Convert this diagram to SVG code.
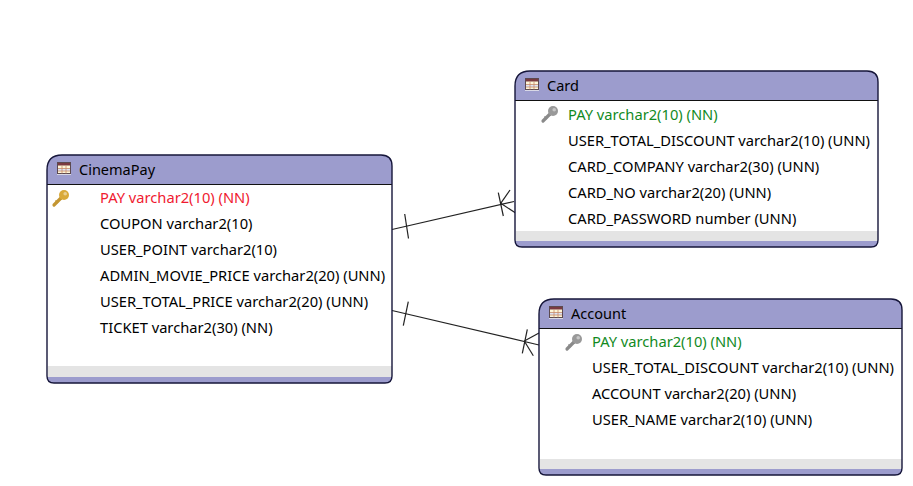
<svg xmlns="http://www.w3.org/2000/svg" width="913" height="486" viewBox="0 0 913 486">
<style>
text{font-family:"Noto Sans","Open Sans","Liberation Sans",sans-serif;font-size:14.7px;fill:#000}
.t{font-size:14.5px}
.box{fill:#fff;stroke:none}
.hd{fill:#9c9ccd}
.band{fill:#e4e4e4}
.out{fill:none;stroke:#16163a;stroke-width:1.4}
.sep{stroke:#111;stroke-width:1}
.pk{fill:#f01a30}
.fk{fill:#128a1e}
.c line{stroke:#222;stroke-width:1.2}
</style>
<defs>
<g id="tbl">
<rect x="0" y="11" width="14" height="2" fill="#d8d8e6"/>
<rect x="0.500" y="0.500" width="13" height="11" fill="#fdf6d8" stroke="#5c4a50" stroke-width="1"/>
<rect x="1" y="1" width="12" height="2.500" fill="#7a3a40"/>
<rect x="1" y="6.500" width="12" height="2.500" fill="#dde4f6"/>
<path d="M1 6.500H13M1 9H13M5 3.500V11.500M9 3.500V11.500" stroke="#c98a6a" stroke-width="0.8" fill="none"/>
</g>
<g id="keyShape">
<line x1="1" y1="15" x2="8" y2="8" stroke-width="3.200" stroke-linecap="round"/>
<line x1="2.500" y1="10.500" x2="5" y2="13" stroke-width="1.500"/>
<circle cx="11" cy="5" r="5" stroke="none"/>
<circle cx="12.200" cy="3.800" r="1.800" stroke="none" fill="#fff" fill-opacity="0.450"/>
</g>
</defs>
<g id="connectors" class="c">
<line x1="392" y1="229.500" x2="514" y2="201.500"/>
<line x1="404.700" y1="214" x2="408.500" y2="238.500"/>
<line x1="498.300" y1="192.700" x2="503.300" y2="216"/>
<line x1="500.700" y1="203.300" x2="510" y2="190"/>
<line x1="500.700" y1="203.300" x2="516" y2="213.300"/>
<line x1="392" y1="310.500" x2="539" y2="345"/>
<line x1="408.300" y1="301.700" x2="403.300" y2="325.700"/>
<line x1="527.300" y1="329.300" x2="522.300" y2="353.300"/>
<line x1="524.300" y1="341" x2="539" y2="333"/>
<line x1="524.300" y1="341" x2="533.300" y2="355.700"/>
</g>
<g id="CinemaPay">
<path class="box" d="M47 170Q47 155 62 155H381Q392 155 392 166V376Q392 383 385 383H54Q47 383 47 376Z"/>
<path class="hd" d="M47 184V170Q47 155 62 155H381Q392 155 392 166V184Z"/>
<rect class="band" x="48" y="366" width="344" height="11"/>
<path class="hd" d="M47 377H392Q392 383 385 383H54Q47 383 47 377Z"/>
<line class="sep" x1="47" y1="184.500" x2="392" y2="184.500"/>
<path class="out" d="M47 170Q47 155 62 155H381Q392 155 392 166V376Q392 383 385 383H54Q47 383 47 376Z"/>
<use href="#tbl" x="57" y="162"/>
<text class="t" x="79" y="175">CinemaPay</text>
<g fill="#d9a93a" stroke="#c39632"><use href="#keyShape" x="53" y="190"/></g>
<text class="pk" x="100" y="203">PAY varchar2(10) (NN)</text>
<text x="100" y="229">COUPON varchar2(10)</text>
<text x="100" y="255">USER_POINT varchar2(10)</text>
<text x="100" y="281">ADMIN_MOVIE_PRICE varchar2(20) (UNN)</text>
<text x="100" y="307">USER_TOTAL_PRICE varchar2(20) (UNN)</text>
<text x="100" y="333">TICKET varchar2(30) (NN)</text>
</g>
<g id="Card">
<path class="box" d="M515 86Q515 71 530 71H867Q878 71 878 82V240Q878 247 871 247H522Q515 247 515 240Z"/>
<path class="hd" d="M515 100V86Q515 71 530 71H867Q878 71 878 82V100Z"/>
<rect class="band" x="516" y="231" width="362" height="10"/>
<path class="hd" d="M515 241H878Q878 247 871 247H522Q515 247 515 241Z"/>
<line class="sep" x1="515" y1="100.500" x2="878" y2="100.500"/>
<path class="out" d="M515 86Q515 71 530 71H867Q878 71 878 82V240Q878 247 871 247H522Q515 247 515 240Z"/>
<use href="#tbl" x="525" y="78"/>
<text class="t" x="547" y="91">Card</text>
<g fill="#999" stroke="#8a8a8a"><use href="#keyShape" x="542" y="106"/></g>
<text class="fk" x="568" y="120">PAY varchar2(10) (NN)</text>
<text x="568" y="146">USER_TOTAL_DISCOUNT varchar2(10) (UNN)</text>
<text x="568" y="172">CARD_COMPANY varchar2(30) (UNN)</text>
<text x="568" y="198">CARD_NO varchar2(20) (UNN)</text>
<text x="568" y="224">CARD_PASSWORD number (UNN)</text>
</g>
<g id="Account">
<path class="box" d="M539 314Q539 299 554 299H891Q902 299 902 310V468Q902 475 895 475H546Q539 475 539 468Z"/>
<path class="hd" d="M539 328V314Q539 299 554 299H891Q902 299 902 310V328Z"/>
<rect class="band" x="540" y="459" width="362" height="10"/>
<path class="hd" d="M539 469H902Q902 475 895 475H546Q539 475 539 469Z"/>
<line class="sep" x1="539" y1="328.500" x2="902" y2="328.500"/>
<path class="out" d="M539 314Q539 299 554 299H891Q902 299 902 310V468Q902 475 895 475H546Q539 475 539 468Z"/>
<use href="#tbl" x="549" y="306"/>
<text class="t" x="571" y="319">Account</text>
<g fill="#999" stroke="#8a8a8a"><use href="#keyShape" x="566" y="334"/></g>
<text class="fk" x="592" y="347">PAY varchar2(10) (NN)</text>
<text x="592" y="373">USER_TOTAL_DISCOUNT varchar2(10) (UNN)</text>
<text x="592" y="399">ACCOUNT varchar2(20) (UNN)</text>
<text x="592" y="425">USER_NAME varchar2(10) (UNN)</text>
</g>
</svg>
